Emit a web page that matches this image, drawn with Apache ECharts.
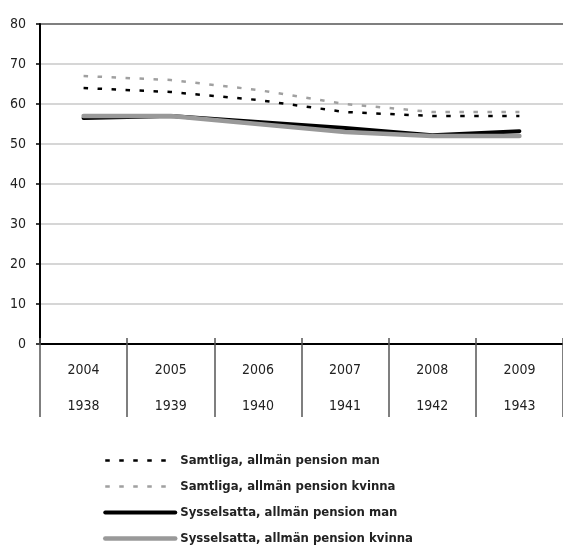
<!DOCTYPE html>
<html>
<head>
<meta charset="utf-8">
<script src="https://cdn.jsdelivr.net/npm/echarts@6/dist/echarts.min.js"></script>
<style>
  html, body { margin: 0; padding: 0; background: #fff; }
  #chart { width: 563px; height: 555px; }
</style>
</head>
<body>
<div id="chart"></div>
<script>
// Measurement years and the matching birth cohorts shown under them
const years = ['2004', '2005', '2006', '2007', '2008', '2009'];
const cohorts = ['1938', '1939', '1940', '1941', '1942', '1943'];

// Share (%) per year
const samtligaMan = [64, 63, 61, 58, 57, 57];
const samtligaKvinna = [67, 66, 63.5, 60, 58, 58];
const sysselsattaMan = [56.5, 57, 55.5, 54, 52.2, 53.2];
const sysselsattaKvinna = [57, 57, 55, 53, 52, 52];

const seriesNames = [
  'Samtliga, allmän pension man',
  'Samtliga, allmän pension kvinna',
  'Sysselsatta, allmän pension man',
  'Sysselsatta, allmän pension kvinna'
];

const FONT = '"Liberation Sans Narrow", "DejaVu Sans Condensed", "Arial Narrow", sans-serif';

const DOT = [4.5, 9.5];
const styles = [
  { color: '#000000', width: 2.5, type: DOT },
  { color: '#a0a0a0', width: 2.5, type: DOT },
  { color: '#000000', width: 4, type: 'solid' },
  { color: '#999999', width: 4.5, type: 'solid' }
];
const values = [samtligaMan, samtligaKvinna, sysselsattaMan, sysselsattaKvinna];

const chart = echarts.init(document.getElementById('chart'), null, { renderer: 'canvas' });

// grid lines 0..80; the topmost one is drawn darker
const gridColors = ['#c8c8c8', '#c8c8c8', '#c8c8c8', '#c8c8c8', '#c8c8c8', '#c8c8c8', '#c8c8c8', '#c8c8c8', '#555555'];

chart.setOption({
  animation: false,
  backgroundColor: '#ffffff',
  grid: { left: 40, right: -3, top: 24, bottom: 211, containLabel: false },
  xAxis: [
    {
      type: 'category',
      data: years,
      boundaryGap: true,
      axisLine: { lineStyle: { color: '#000', width: 2 } },
      axisTick: { show: true, inside: false, length: 73, interval: 0, lineStyle: { color: '#555', width: 1.5 } },
      axisLabel: {
        interval: 0,
        margin: 8,
        color: '#222',
        fontFamily: FONT,
        fontSize: 14,
        lineHeight: 36,
        formatter: (v, i) => v + '\n' + cohorts[i]
      },
      splitLine: { show: false }
    },
    {
      type: 'category',
      data: years,
      position: 'bottom',
      boundaryGap: true,
      axisLine: { show: false },
      axisTick: { show: true, inside: true, length: 6, interval: 0, lineStyle: { color: '#555', width: 1.5 } },
      axisLabel: { show: false },
      splitLine: { show: false }
    }
  ],
  yAxis: {
    type: 'value',
    min: 0,
    max: 80,
    interval: 10,
    axisLine: { show: true, lineStyle: { color: '#000', width: 2 } },
    axisTick: { show: true, length: 4, lineStyle: { color: '#000', width: 1.5 } },
    axisLabel: { color: '#222', fontFamily: FONT, fontSize: 14, margin: 14 },
    splitLine: { show: true, lineStyle: { color: gridColors, width: 1.5 } }
  },
  legend: {
    orient: 'vertical',
    left: 103,
    top: 454,
    itemWidth: 70,
    itemHeight: 14,
    itemGap: 13,
    padding: 0,
    itemStyle: { opacity: 0 },
    textStyle: { fontFamily: FONT, fontSize: 13, fontWeight: 'bold', color: '#222' },
    data: seriesNames.map((name, i) => ({
      name: name,
      itemStyle: { opacity: 0 },
      lineStyle: { color: styles[i].color, width: styles[i].width, type: styles[i].type }
    }))
  },
  series: seriesNames.map((name, i) => ({
    name: name,
    type: 'line',
    data: values[i],
    symbol: 'none',
    lineStyle: { color: styles[i].color, width: styles[i].width, type: styles[i].type, cap: styles[i].type === 'solid' ? 'round' : 'butt' },
    itemStyle: { color: styles[i].color }
  }))
});
</script>
</body>
</html>
